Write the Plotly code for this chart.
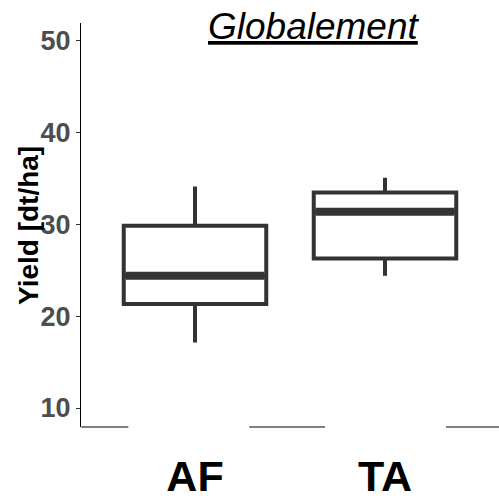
import plotly.graph_objects as go

categories = ["AF", "TA"]
q1 = [21.33, 26.3]
median = [24.42, 31.4]
q3 = [29.87, 33.5]
lower = [17.15, 24.42]
upper = [34.15, 35.1]
y_ticks = [10, 20, 30, 40, 50]

FONT = "Liberation Sans, Arial, sans-serif"
BOX_W = 0.75

fig = go.Figure()
fig.add_trace(go.Box(
    x=categories, q1=q1, median=median, q3=q3,
    lowerfence=lower, upperfence=upper,
    boxpoints=False, width=BOX_W,
    fillcolor="white", line=dict(color="#333333", width=4),
    whiskerwidth=0, showlegend=False, hoverinfo="skip",
))

# thicker median lines
for i, m in enumerate(median):
    fig.add_shape(type="line", xref="x", yref="y",
                  x0=i - BOX_W / 2 + 0.01, x1=i + BOX_W / 2 - 0.01, y0=m, y1=m,
                  line=dict(color="#333333", width=8))

# broken x-axis baseline segments (paper coords)
W = 418.0
segs = [(81.3, 128.3), (249.3, 325.0), (446.0, 499.0)]
for a, b in segs:
    fig.add_shape(type="line", xref="paper", yref="paper",
                  x0=(a - 81) / W, x1=(b - 81) / W, y0=0, y1=0,
                  line=dict(color="black", width=1.2))

fig.update_layout(
    width=499, height=501,
    margin=dict(l=81, r=0, t=23, b=74, autoexpand=False),
    plot_bgcolor="white", paper_bgcolor="white",
    font=dict(family=FONT),
    xaxis=dict(
        range=[-0.6, 1.6], showgrid=False, zeroline=False, showline=False,
        automargin=False,
        ticks="", tickfont=dict(size=43, color="black", family=FONT, weight="bold"),
        ticklabelstandoff=20,
    ),
    yaxis=dict(
        range=[7.93, 51.96], tickvals=y_ticks, showgrid=False, zeroline=False,
        automargin=False,
        showline=True, linecolor="black", linewidth=1.2,
        ticks="outside", ticklen=4, tickcolor="#333333", tickwidth=1.2,
        tickfont=dict(size=27, color="#4d4d4d", family=FONT, weight="bold"),
    ),
    annotations=[
        dict(text="<i><u>Globalement</u></i>", xref="paper", yref="paper",
             x=(313.5 - 81) / W, y=(427 - 26) / 404.0, xanchor="center", yanchor="middle",
             showarrow=False, font=dict(size=37, color="black", family=FONT)),
        dict(text="<b>Yield [dt/ha]</b>", xref="paper", yref="paper",
             x=(28 - 81) / W, y=(427 - 226) / 404.0, xanchor="center", yanchor="middle",
             textangle=-90, showarrow=False, font=dict(size=28, color="black", family=FONT)),
    ],
)

fig.write_html("out.html", config={"displayModeBar": False},
               post_script="document.body.style.margin='0';document.body.style.overflow='hidden';")
